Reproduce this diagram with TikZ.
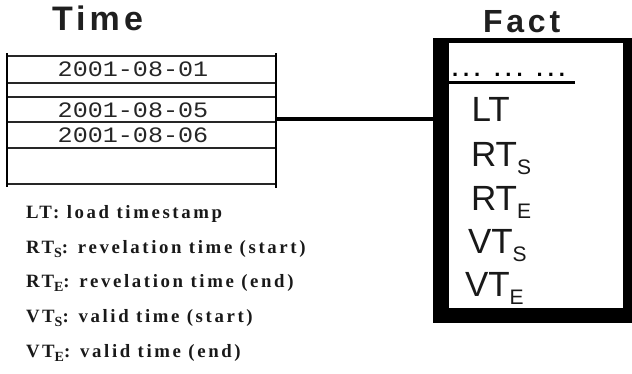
\documentclass[tikz,border=0pt]{standalone}
\usepackage{fontspec}
\setmainfont{Liberation Serif}
\newfontfamily\headfont{Liberation Sans}[LetterSpace=12]
\newfontfamily\boxfont{Liberation Sans}
\newfontfamily\dotfont{Liberation Sans Bold}
\newfontfamily\datefont{Liberation Mono}
\newfontfamily\legendfont{Liberation Serif Bold}[LetterSpace=14]
% subscripts for the attribute list and the legend
\newcommand{\boxsub}[1]{\raisebox{-8pt}{\fontsize{21}{21}\selectfont #1}}
\newcommand{\legsub}[1]{\raisebox{-4pt}{\fontsize{14}{14}\selectfont #1}}
\tikzset{
  every node/.style={inner sep=0pt, outer sep=0pt},
  title/.style={anchor=base west, font=\headfont\bfseries\fontsize{34}{34}\selectfont, text=black!88},
  datetext/.style={anchor=base, font=\datefont\fontsize{22}{22}\selectfont, xscale=1.14, text=black!85},
  attr/.style={anchor=base west, font=\boxfont\fontsize{35}{35}\selectfont, text=black!90},
  legend/.style={anchor=base west, font=\legendfont\fontsize{18.8}{18.8}\selectfont, text=black!90},
  rowline/.style={line width=2pt, black!85},
}
\begin{document}
\begin{tikzpicture}[x=1pt, y=-1pt]
\useasboundingbox (0,0) rectangle (632,373);

% titles
\node[title] (ttime) at (52,30) {Time};
\node[title, font=\headfont\bfseries\fontsize{32}{32}\selectfont] (tfact) at (483,32) {Fact};

% Time table
\node[minimum width=269pt, minimum height=128pt] (time) at (141.5,120) {};
\foreach \yy in {56,83,97,122,148,184}
  \draw[rowline] (7,\yy) -- (276,\yy);
\draw[line width=2.2pt] (7,53) -- (7,187);
\draw[line width=2pt] (276,53) -- (276,188);
\node[datetext] (d1) at (133,76.7) {2001-08-01};
\node[datetext] (d2) at (133,117.5) {2001-08-05};
\node[datetext] (d3) at (133,142.7) {2001-08-06};

% Fact box with heavy left/bottom border
\node[fill=black, minimum width=199pt, minimum height=285pt] (fact) at (532.5,180.5) {};
\node[fill=white, minimum width=174pt, minimum height=265pt] (factin) at (536,175.5) {};

% link between the two
\coordinate (link) at (0,119);
\draw[line width=4pt] (time.east |- link) -- (fact.west |- link);

% attribute list
\node[anchor=base west, font=\dotfont\fontsize{22}{22}\selectfont] (dots) at (452,76.5)
  {.\hspace{5pt}.\hspace{5pt}.\hspace{14pt}.\hspace{5pt}.\hspace{5pt}.\hspace{14pt}.\hspace{5pt}.\hspace{5pt}.};
\draw[line width=2.5pt] (449,82.7) -- (575,82.7);
\node[attr] (lt) at (471.5,121.7) {LT};
\node[attr] (rts) at (471,166.7) {RT\boxsub{S}};
\node[attr] (rte) at (471,210) {RT\boxsub{E}};
\node[attr] (vts) at (468,253) {VT\boxsub{S}};
\node[attr] (vte) at (465,296.7) {VT\boxsub{E}};

% legend
\node[legend] (l1) at (26,218) {LT: load timestamp};
\node[legend] (l2) at (26,253) {RT\legsub{S}: revelation time (start)};
\node[legend] (l3) at (26,287) {RT\legsub{E}: revelation time (end)};
\node[legend] (l4) at (26,322) {VT\legsub{S}: valid time (start)};
\node[legend] (l5) at (26,357) {VT\legsub{E}: valid time (end)};
\end{tikzpicture}
\end{document}
